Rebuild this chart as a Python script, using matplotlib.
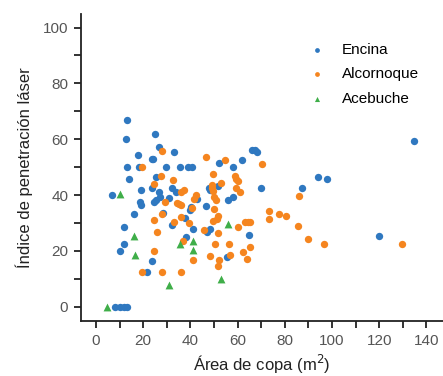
import matplotlib
matplotlib.use("Agg")
import matplotlib.pyplot as plt
from matplotlib.ticker import MultipleLocator

plt.rcParams['font.family'] = ['Liberation Sans', 'DejaVu Sans']

encina_x = [6.6, 8.1, 10.1, 11.7, 13.2, 13.0, 12.9, 13.0, 14.1, 11.7, 11.9, 10.3, 16.1, 17.7, 18.4,
            18.8, 19.0, 19.2, 21.5, 23.8, 23.6, 24.1, 23.8, 24.9, 26.9, 25.5, 24.7, 25.4, 26.9, 27.3,
            28.3, 29.8, 30.9, 32.1, 32.9, 32.0, 33.8, 35.4, 37.6, 38.2, 39.0, 40.6, 40.0, 40.3, 41.2,
            42.6, 46.4, 47.0, 47.8, 48.2, 48.5, 51.9, 52.0, 55.9, 55.7, 58.1, 58.1, 61.8, 64.9, 66.3,
            67.2, 68.0, 70.0, 87.4, 93.9, 97.9, 120.1, 134.6]
encina_y = [40.0, 0.0, 0.0, 0.0, 0.0, 66.9, 60.0, 50.2, 45.6, 28.6, 22.4, 20.0, 33.3, 54.5, 50.2,
            37.5, 36.4, 41.7, 12.4, 16.5, 53.1, 53.1, 42.7, 61.8, 57.4, 46.4, 37.6, 38.2, 41.0, 39.5,
            33.5, 50.2, 38.8, 29.3, 55.6, 42.7, 41.0, 50.2, 31.8, 24.9, 50.2, 50.2, 34.5, 35.7, 27.7,
            38.7, 36.2, 26.8, 42.7, 41.7, 27.9, 43.3, 51.5, 38.2, 17.9, 39.4, 50.2, 52.6, 25.7, 56.2,
            56.0, 55.6, 42.5, 42.4, 46.5, 45.6, 25.5, 59.5]

alcornoque_x = [19.7, 19.7, 24.5, 24.7, 24.5, 25.7, 27.9, 28.0, 27.6, 27.9, 29.4, 32.8, 33.2, 34.2,
                35.2, 36.0, 36.2, 35.9, 35.9, 37.0, 37.5, 39.3, 40.6, 41.2, 41.4, 42.3, 45.9, 46.4,
                48.2, 49.4, 49.0, 49.3, 49.5, 49.8, 50.1, 49.5, 50.5, 50.8, 51.3, 51.6, 51.8, 52.2,
                51.6, 53.0, 54.7, 56.3, 56.9, 58.8, 59.3, 60.1, 59.3, 61.1, 60.1, 62.1, 63.1, 64.3,
                63.9, 65.3, 65.2, 70.4, 73.5, 73.2, 77.6, 80.7, 85.4, 86.1, 90.0, 96.7, 129.5]
alcornoque_y = [50.2, 12.4, 31.2, 43.9, 19.9, 26.8, 12.4, 55.7, 47.0, 33.3, 37.5, 45.5, 30.5, 37.1,
                36.9, 41.1, 36.3, 32.1, 12.4, 23.7, 41.9, 30.1, 35.4, 16.7, 38.7, 40.1, 27.6, 53.8,
                18.3, 47.4, 43.7, 42.7, 41.5, 39.5, 35.2, 30.6, 22.6, 38.3, 31.4, 32.6, 26.4, 16.7,
                14.8, 44.5, 52.4, 22.6, 18.7, 46.9, 45.8, 44.9, 42.5, 41.1, 28.6, 19.5, 30.5, 30.5,
                17.1, 21.5, 30.5, 51.1, 34.3, 31.5, 33.3, 32.5, 28.9, 39.8, 24.2, 22.6, 22.6]

acebuche_x = [4.7, 10.3, 16.0, 16.4, 31.1, 35.5, 40.9, 41.2, 53.0, 55.9]
acebuche_y = [0.0, 40.4, 25.2, 18.5, 8.0, 22.5, 23.6, 20.5, 10.0, 29.8]

series_names = ["Encina", "Alcornoque", "Acebuche"]
x_ticks = [0, 20, 40, 60, 80, 100, 120, 140]
y_ticks = [0, 20, 40, 60, 80, 100]

fig = plt.figure(figsize=(4.43, 3.76), dpi=100)
ax = fig.add_axes([0.182, 0.146, 0.818, 0.818])

ax.scatter(encina_x, encina_y, s=28, color="#2f78c0", marker="o", linewidths=0, label=series_names[0], zorder=3)
ax.scatter(alcornoque_x, alcornoque_y, s=28, color="#f5851f", marker="o", linewidths=0, label=series_names[1], zorder=3)
ax.scatter(acebuche_x, acebuche_y, s=32, color="#3fae49", marker="^", linewidths=0, label=series_names[2], zorder=3)

ax.set_xlim(-6.5, 147)
ax.set_ylim(-5.1, 105)
ax.set_xticks(x_ticks)
ax.set_yticks(y_ticks)
ax.xaxis.set_minor_locator(MultipleLocator(10))
ax.yaxis.set_minor_locator(MultipleLocator(10))
ax.tick_params(which="both", direction="out", length=5, width=1.3, color="#222222")
ax.tick_params(which="major", labelsize=11, labelcolor="#555555", pad=4)

for s in ["top", "right"]:
    ax.spines[s].set_visible(False)
for s in ["left", "bottom"]:
    ax.spines[s].set_linewidth(1.3)
    ax.spines[s].set_color("#222222")

ax.set_xlabel("Área de copa (m$^2$)", fontsize=12, color="#222222", labelpad=4)
ax.set_ylabel("Índice de penetración láser", fontsize=12, color="#222222", labelpad=7)

leg = ax.legend(loc="upper left", bbox_to_anchor=(0.594, 0.925), frameon=False, fontsize=11,
                markerscale=0.65, handletextpad=0.6, labelspacing=0.7, borderaxespad=0)

fig.savefig("out.png", dpi=100)
